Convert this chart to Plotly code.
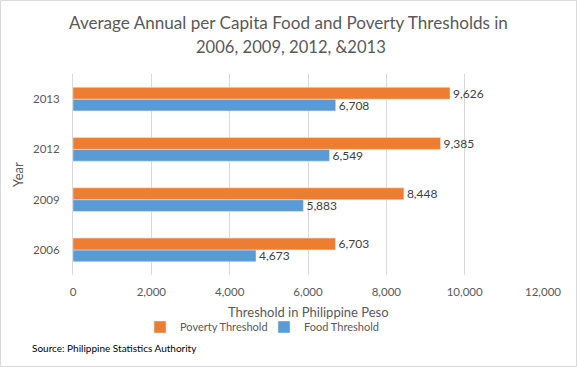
import plotly.graph_objects as go

years = ["2006", "2009", "2012", "2013"]
food = [4673, 5883, 6549, 6708]
poverty = [6703, 8448, 9385, 9626]
x_ticks = [0, 2000, 4000, 6000, 8000, 10000, 12000]
x_tick_labels = ["0", "2,000", "4,000", "6,000", "8,000", "10,000", "12,000"]
title_lines = ["Average Annual per Capita Food and Poverty Thresholds in",
               "2006, 2009, 2012, &2013"]

W, H = 577, 367
L, R, T, B = 73, 34, 74, 92
pw, ph = W - L - R, H - T - B

def px(x):
    return (x - L) / pw

def py(y):
    return (H - B - y) / ph

FONT = "Lato"
GREY = "#595959"

fig = go.Figure()
fig.add_trace(go.Bar(
    y=years, x=food, orientation="h", name="Food Threshold", legend="legend2",
    marker=dict(color="#5B9BD5"),
    text=[f"{v:,}" for v in food], textposition="outside", constraintext="none",
    textfont=dict(family=FONT, size=12, color="#404040"), cliponaxis=False,
))
fig.add_trace(go.Bar(
    y=years, x=poverty, orientation="h", name="Poverty Threshold", legend="legend",
    marker=dict(color="#ED7D31"),
    text=[f"{v:,}" for v in poverty], textposition="outside", constraintext="none",
    textfont=dict(family=FONT, size=12, color="#404040"), cliponaxis=False,
))

annotations = [
    dict(text=title_lines[0], xref="paper", yref="paper",
         x=px(288.5), y=py(23), xanchor="center", yanchor="middle",
         showarrow=False, font=dict(family=FONT, size=17.1, color=GREY)),
    dict(text=title_lines[1], xref="paper", yref="paper",
         x=px(291), y=py(47), xanchor="center", yanchor="middle",
         showarrow=False, font=dict(family=FONT, size=16.6, color=GREY)),
    dict(text="Threshold in Philippine Peso", xref="paper", yref="paper",
         x=px(308), y=py(312), xanchor="center", yanchor="middle",
         showarrow=False, font=dict(family=FONT, size=13, color=GREY)),
    dict(text="Year", xref="paper", yref="paper",
         x=px(18), y=py(175), xanchor="center", yanchor="middle", textangle=-90,
         showarrow=False, font=dict(family=FONT, size=13, color=GREY)),
    dict(text="Source: Philippine Statistics Authority", xref="paper", yref="paper",
         x=px(30), y=py(348), xanchor="left", yanchor="middle",
         showarrow=False, font=dict(family=FONT, size=10, color="#000000")),
]

legend_common = dict(
    orientation="h", yanchor="middle", xanchor="left",
    font=dict(family=FONT, size=11, color=GREY),
    bgcolor="rgba(0,0,0,0)", itemwidth=30,
)

fig.update_layout(
    width=W, height=H,
    margin=dict(l=L, r=R, t=T, b=B, autoexpand=False),
    paper_bgcolor="white", plot_bgcolor="white",
    barmode="group", bargap=0.53, bargroupgap=0,
    font=dict(family=FONT, color=GREY),
    xaxis=dict(
        range=[0, 12000], tickvals=x_ticks, ticktext=x_tick_labels,
        showgrid=True, gridcolor="#D9D9D9", gridwidth=1,
        zeroline=False, showline=False, ticks="",
        tickfont=dict(family=FONT, size=11.5, color=GREY),
        ticklabelstandoff=8, automargin=False,
    ),
    yaxis=dict(
        showgrid=False, zeroline=False, showline=True, linecolor="#D9D9D9",
        ticks="", tickfont=dict(family=FONT, size=11.5, color=GREY),
        ticklabelstandoff=10, automargin=False,
    ),
    showlegend=True,
    legend=dict(x=px(140), y=py(327), **legend_common),
    legend2=dict(x=px(264), y=py(327), **legend_common),
    annotations=annotations,
    shapes=[
        dict(type="rect", xref="paper", yref="paper",
             x0=px(0.5), x1=px(576.5), y0=py(366.5), y1=py(0.5),
             line=dict(color="#D9D9D9", width=1), fillcolor="rgba(0,0,0,0)"),
    ],
)

fig.write_html("out.html", config={"displayModeBar": False},
               post_script="document.body.style.margin='0';document.body.style.overflow='hidden';")
